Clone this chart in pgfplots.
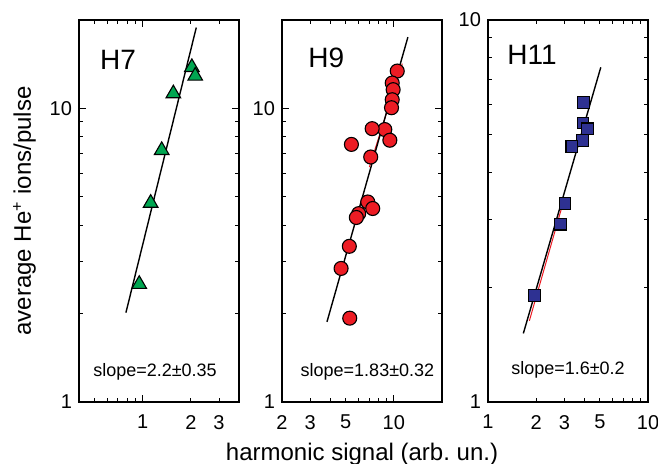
\documentclass[border=0pt]{standalone}
\usepackage{fontspec}
\setmainfont{Liberation Sans}
\usepackage{pgfplots}
\pgfplotsset{compat=1.18}

\definecolor{hgreen}{RGB}{0,166,81}
\definecolor{hred}{RGB}{237,28,36}
\definecolor{hblue}{RGB}{46,49,146}

\pgfplotsset{
  hpanel/.style={
    scale only axis, width=80pt, height=191pt,
    axis line style={line width=0.6pt},
    tick style={black, line width=0.5pt},
    major tick length=3.5pt, minor tick length=1.8pt,
    tick pos=both, xticklabel pos=lower, yticklabel pos=left,
    tick label style={font=\fontsize{10}{12}\selectfont},
    xticklabel style={yshift=-3pt},
    /pgf/number format/assume math mode=true,
    label style={font=\fontsize{12}{14}\selectfont},
  },
}
\tikzset{
  hfit/.style={black, line width=0.7pt},
  hredfit/.style={hred, line width=0.5pt},
  htitle/.style={anchor=west, inner sep=0pt, font=\fontsize{14}{16}\selectfont},
  hslope/.style={font=\fontsize{9}{11}\selectfont},
}

\begin{document}
\begin{tikzpicture}
% H7
\begin{loglogaxis}[hpanel,
  xmin=0.4, xmax=4, ymin=1, ymax=20,
  xtick={1}, xticklabels={1},
  extra x ticks={2,3}, extra x tick labels={2,3},
  extra x tick style={major tick length=1.8pt},
  minor xtick={0.5,0.6,0.7,0.8,0.9},
  ytick={1,10}, yticklabels={1,10},
  minor ytick={2,3,4,5,6,7,8,9},
  ylabel={average He\textsuperscript{+} ions/pulse},
]
\addplot[only marks, mark=triangle*, mark size=4.2pt,
  mark options={fill=hgreen, draw=black, line width=0.55pt}] coordinates {
  (0.952,2.52) (1.122,4.76) (1.315,7.20) (1.555,11.23) (2.03,13.8) (2.13,12.9)
};
\addplot[hfit, no marks] coordinates {(0.786,2.015) (2.163,18.85)};
\node[htitle] at (rel axis cs:0.13,0.895) {H7};
\node[hslope] at (rel axis cs:0.475,0.0785) {slope=2.2±0.35};
\end{loglogaxis}

% H9
\begin{loglogaxis}[hpanel, at={(101.5pt,0pt)},
  xmin=2, xmax=20, ymin=1, ymax=20,
  xtick={10}, xticklabels={10},
  extra x ticks={2,3,5}, extra x tick labels={2,3,5},
  extra x tick style={major tick length=1.8pt},
  minor xtick={4,6,7,8,9},
  ytick={1,10}, yticklabels={1,10},
  minor ytick={2,3,4,5,6,7,8,9},
  xlabel={harmonic signal (arb.\ un.)},
]
\addplot[only marks, mark=*, mark size=3.5pt,
  mark options={fill=hred, draw=black, line width=0.55pt}] coordinates {
  (10.5,13.4) (9.77,12.2) (9.9,11.58) (9.77,10.7) (9.67,10.05)
  (8.78,8.47) (7.32,8.53) (9.44,7.79) (5.43,7.54) (7.17,6.83)
  (6.87,4.80) (7.38,4.56) (6.03,4.38) (5.83,4.25) (5.27,3.39)
  (4.68,2.85) (5.30,1.93)
};
\addplot[hredfit, no marks] coordinates {(7.03,6.31) (11.29,14.2)};
\addplot[hfit, no marks] coordinates {(3.82,1.875) (12.24,17.48)};
\node[htitle] at (rel axis cs:0.1625,0.9) {H9};
\node[hslope] at (rel axis cs:0.534,0.0785) {slope=1.83±0.32};
\end{loglogaxis}

% H11
\begin{loglogaxis}[hpanel, at={(204.5pt,0pt)},
  xmin=1, xmax=10, ymin=1, ymax=10,
  xtick={1,10}, xticklabels={1,10},
  extra x ticks={2,3,5}, extra x tick labels={2,3,5},
  extra x tick style={major tick length=1.8pt},
  minor xtick={4,6,7,8,9},
  ytick={1,10}, yticklabels={1,10},
  minor ytick={2,3,4,5,6,7,8,9},
]
\addplot[only marks, mark=square*, mark size=2.9pt,
  mark options={fill=hblue, draw=black, line width=0.55pt}] coordinates {
  (3.94,6.08) (3.92,5.37) (4.18,5.19) (3.90,4.83) (3.34,4.67)
  (3.03,3.31) (2.83,2.92) (1.95,1.90)
};
\addplot[hredfit, no marks] coordinates {(1.814,1.631) (2.904,3.254)};
\addplot[hfit, no marks] coordinates {(1.663,1.512) (5.07,7.52)};
\node[htitle] at (rel axis cs:0.119,0.91) {H11};
\node[hslope] at (rel axis cs:0.5,0.084) {slope=1.6±0.2};
\end{loglogaxis}

\pgfresetboundingbox
\path[use as bounding box] (-39.5pt,-31pt) rectangle (289.5pt,201pt);
\end{tikzpicture}
\end{document}
